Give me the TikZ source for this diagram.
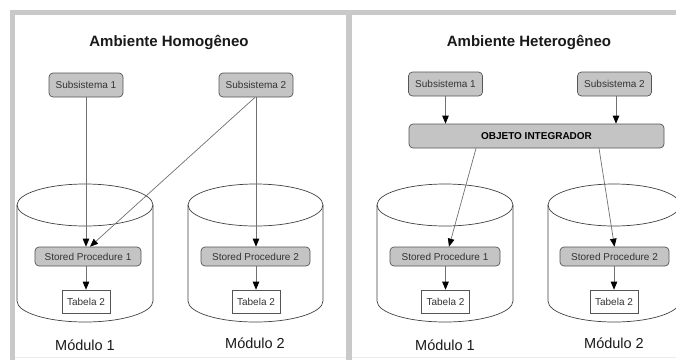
\documentclass[tikz,border=0pt]{standalone}
\usepackage{fontspec}
\setmainfont{Liberation Sans}
\usetikzlibrary{arrows.meta}

\definecolor{boxgray}{HTML}{C4C4C4}
\definecolor{edgegray}{HTML}{555555}
\definecolor{bargray}{HTML}{C9C9C9}
\definecolor{wiregray}{HTML}{707070}
\definecolor{textgray}{HTML}{333333}

% database cylinder: centre x, x radius
\newcommand\dbcylinder[2]{%
  \draw[cyl] ({#1-#2},205) -- ({#1-#2},301)
    arc[start angle=180,end angle=360,x radius=#2 bp,y radius=21bp] -- ({#1+#2},205);
  \draw[cyl] (#1,205) ellipse[x radius=#2 bp,y radius=21bp];
}

\begin{document}
\begin{tikzpicture}[x=1bp,y=-1bp,
  boxtext/.style={font=\fontsize{10bp}{12bp}\selectfont, text=textgray},
  subbox/.style={boxtext, draw=edgegray, fill=boxgray, rounded corners=4bp,
    line width=0.7bp, minimum width=74bp, minimum height=24bp, inner sep=0pt},
  procbox/.style={boxtext, draw=edgegray, fill=boxgray, rounded corners=4bp,
    line width=0.7bp, minimum height=19bp, inner sep=0pt},
  integbox/.style={procbox, font=\fontsize{10bp}{12bp}\selectfont\bfseries, text=black,
    minimum width=255bp, minimum height=24bp},
  tablebox/.style={boxtext, draw=edgegray, fill=white, line width=0.6bp,
    minimum width=48bp, minimum height=23bp, inner sep=0pt},
  title/.style={font=\fontsize{15bp}{18bp}\selectfont\bfseries, text=black!90},
  modlabel/.style={font=\fontsize{14.5bp}{17bp}\selectfont, text=black!90},
  cyl/.style={draw=black!75, line width=0.7bp},
  link/.style={draw=wiregray, line width=0.7bp,
    -{Triangle[length=8bp,width=6.5bp,color=black]}},
]
\useasboundingbox (0,0) rectangle (676,360);

% panel frames
\fill[bargray] (9.5,10) rectangle (676,15);
\fill[bargray] (9.5,10) rectangle (14.5,360);
\fill[bargray] (346,10) rectangle (352,360);
\draw[black!8, line width=0.8bp] (14.5,357.5) -- (346,357.5) (352,357.5) -- (676,357.5);

% database cylinders
\dbcylinder{85}{68}
\dbcylinder{255.5}{67.5}
\dbcylinder{445}{68}
\dbcylinder{614}{66}

% titles
\node[title] (ltitle) at (169,42) {Ambiente Homogêneo};
\node[title] (rtitle) at (529,42) {Ambiente Heterogêneo};

% homogeneous side
\node[subbox] (lsub1) at (86,85) {Subsistema 1};
\node[subbox] (lsub2) at (256,85) {Subsistema 2};
\node[procbox, minimum width=106bp] (lsp1) at (88,256.5) {Stored Procedure 1};
\node[procbox, minimum width=109bp] (lsp2) at (255.5,256.5) {Stored Procedure 2};
\node[tablebox] (ltab1) at (86,301.5) {Tabela 2};
\node[tablebox] (ltab2) at (256,301.5) {Tabela 2};

% heterogeneous side
\node[subbox] (rsub1) at (445.5,84) {Subsistema 1};
\node[subbox] (rsub2) at (614.5,84) {Subsistema 2};
\node[integbox] (obj) at (536.5,136) {OBJETO INTEGRADOR};
\node[procbox, minimum width=110bp] (rsp1) at (445,256.5) {Stored Procedure 1};
\node[procbox, minimum width=109bp] (rsp2) at (614.5,256.5) {Stored Procedure 2};
\node[tablebox] (rtab1) at (445.5,301.5) {Tabela 2};
\node[tablebox] (rtab2) at (614,301.5) {Tabela 2};

% module labels
\node[modlabel] (lmod1) at (85,345) {Módulo 1};
\node[modlabel] (lmod2) at (255,343) {Módulo 2};
\node[modlabel] (rmod1) at (445,345) {Módulo 1};
\node[modlabel] (rmod2) at (614,343) {Módulo 2};

% connectors, homogeneous
\draw[link] (lsub1.south) -- (lsub1.south |- lsp1.north);
\draw[link] ([xshift=-1bp]lsub2.south) -- ([xshift=2bp]lsp1.north);
\draw[link] (lsub2.south) -- (lsub2.south |- lsp2.north);
\draw[link] (ltab1.north |- lsp1.south) -- (ltab1.north);
\draw[link] (ltab2.north |- lsp2.south) -- (ltab2.north);

% connectors, heterogeneous
\draw[link] (rsub1.south) -- (rsub1.south |- obj.north);
\draw[link] ([xshift=1.5bp]rsub2.south) -- ([xshift=1.5bp]rsub2.south |- obj.north);
\draw[link] ([xshift=-60.5bp]obj.south) -- ([xshift=4bp]rsp1.north);
\draw[link] ([xshift=62.5bp]obj.south) -- (rsp2.north);
\draw[link] (rtab1.north |- rsp1.south) -- (rtab1.north);
\draw[link] (rtab2.north |- rsp2.south) -- (rtab2.north);
\end{tikzpicture}
\end{document}
